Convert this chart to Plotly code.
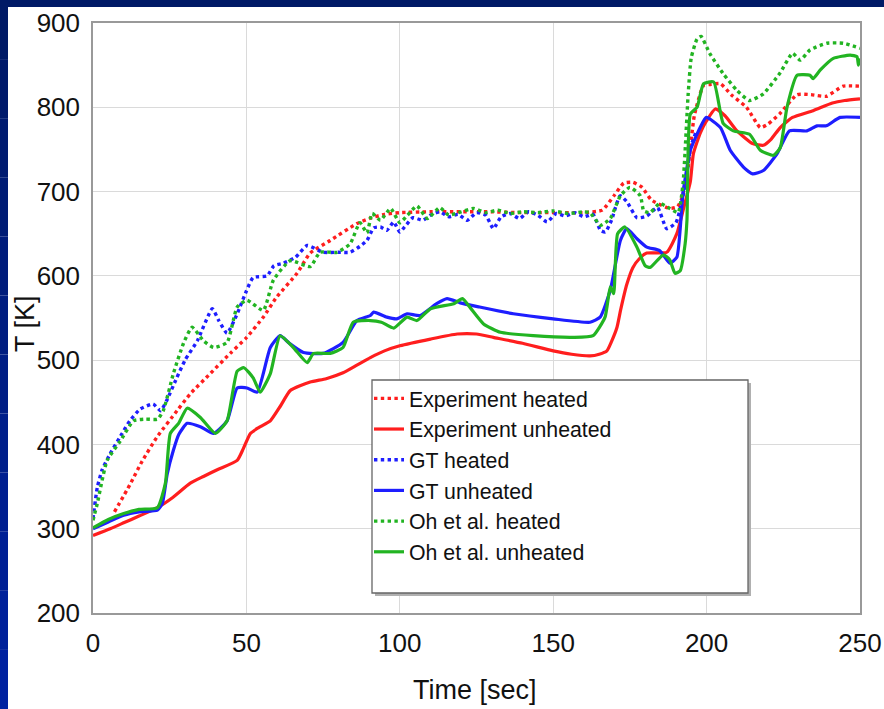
import plotly.graph_objects as go

# ---------------- data ----------------
exp_heated_t = [7, 12, 16, 20.9, 27.4, 31.7, 38.2, 44.7, 50.1, 55.5, 59.9, 66.5, 70.8, 77.3, 86, 90, 95, 100, 110, 120, 130, 140, 150, 160, 166, 170,
                173, 176, 179, 182, 188, 190.5, 192, 194, 196, 199, 201, 204.5, 208, 213, 217.5, 220, 224, 229.5, 234, 239, 244.5, 250]
exp_heated_T = [320, 352, 380, 409, 440, 460, 484, 508, 527, 551, 575, 603, 627, 642, 662, 668, 673, 675, 676, 676, 676, 675, 675, 675, 678, 696,
                710, 711, 705, 690, 680, 682, 693, 730, 790, 826, 827, 828, 815, 800, 776, 780, 793, 815, 815, 813, 825, 825]

exp_unheated_t = [0, 5.6, 10, 15, 21, 26, 31.7, 36, 40.5, 47, 49, 51.3, 54, 57.8, 61, 64.3, 70.8, 76, 81.5, 86, 90.4, 95, 100, 110, 118.7, 125,
                  130.5, 140, 150, 156, 162, 165, 167.5, 169, 170.8, 172, 174, 176, 178, 180.5, 187, 190.3, 192.5, 194.7, 195.7, 198, 200,
                  202.8, 206, 209.9, 215, 218.5, 221, 224, 228, 234.7, 241, 245, 250]
exp_unheated_T = [292, 300, 307, 315, 325, 337, 354, 362, 370, 381, 395, 413, 420, 428, 445, 464, 474, 478, 485, 494, 503, 511, 517, 525, 531, 531,
                  527, 520, 511, 507, 505, 507, 511, 522, 539, 560, 590, 610, 620, 627, 628, 650, 680, 712, 745, 770, 784,
                  798, 790, 772, 757, 755, 762, 776, 788, 796, 805, 808, 810]

gt_heated_t = [0, 1.4, 3, 5.6, 9, 12, 15.4, 19.6, 22, 24, 27.3, 30, 34, 38.9, 41, 43.7, 47, 50, 52.2, 56.7, 59, 62, 66, 69.8, 75, 80, 83.8, 87,
               89.3, 91.5, 93.7, 95.8, 98, 100, 102, 104.3, 107.5, 110, 113, 116, 119, 122, 125, 128, 130.5, 133, 136, 139, 142, 145, 148,
               151, 154, 157, 160, 163, 165.4, 167, 169, 171.8, 174, 177.3, 180.5, 184, 187, 190, 192, 193.7, 194.7, 196.5]
gt_heated_T = [312, 349, 370, 389, 410, 428, 442, 448, 440, 452, 479, 500, 523, 561, 547, 532, 555, 582, 598, 600, 612, 615, 622, 636, 628, 628, 628, 635,
               642, 657, 658, 654, 664, 652, 660, 669, 666, 672, 676, 670, 673, 666, 675, 672, 656, 670, 674, 668, 676, 672, 664,
               674, 671, 675, 670, 673, 654, 652, 666, 695, 688, 669, 671, 681, 656, 663, 689, 725, 752, 770]

gt_unheated_t = [0, 5, 10, 15, 21, 22.6, 24.2, 26.2, 28, 30.7, 35, 39.3, 43.7, 47, 50.2, 53.5, 57.8, 61, 64, 68.6, 75, 81.5, 86, 90.4, 91.5,
                 95.8, 99, 102.4, 106.6, 112, 115.4, 119.7, 126, 137, 150, 162, 165.3, 168.6, 171.9, 174, 177.3, 180.5, 184.7, 188, 190.3,
                 192.3, 194.7, 197.9, 199.9, 204.5, 207.7, 212, 215, 218.5, 223, 227, 232.7, 236, 239, 243.5, 250]
gt_unheated_T = [300, 308, 316, 320, 322, 330, 365, 393, 412, 425, 421, 413, 428, 467, 467, 462, 515, 529, 520, 509, 508, 521, 547, 553, 557,
                 551, 549, 555, 553, 567, 573, 568, 563, 555, 549, 545, 551, 583, 642, 656, 644, 634, 630, 615, 622,
                 698, 749, 776, 788, 776, 749, 729, 721, 725, 745, 772, 772, 778, 778, 788, 788]

oh_heated_t = [0, 1.4, 4.6, 8.9, 13.2, 17, 21, 22.9, 26.2, 29.5, 32.3, 36, 39.3, 43.7, 47, 50.2, 55.5, 58.8, 64.3, 70.8, 74, 79.5, 83.8, 87,
               89.3, 91, 93.7, 97, 100, 102.5, 105.6, 109, 113, 116, 120, 124, 128, 132, 136, 140, 145, 150, 155, 160, 162, 165.4, 168.6,
               171.9, 175, 178.4, 179.5, 181.6, 184.7, 188, 190.7, 192.3, 194, 195, 196.9, 198.2, 201, 205.4, 209.9, 214, 218.5, 224, 228,
               230.5, 233.7, 239.2, 244.5, 250]
oh_heated_T = [310, 330, 381, 404, 428, 430, 430, 440, 484, 520, 539, 523, 515, 521, 563, 571, 559, 595, 618, 611, 628, 628, 638, 663,
               651, 674, 666, 680, 663, 672, 683, 668, 681, 672, 676, 680, 675, 678, 674, 676, 675, 677, 674, 676, 675, 660, 668,
               695, 705, 695, 677, 675, 686, 680, 675, 709, 816, 859, 881, 884, 864, 840, 820, 808, 816, 841, 864,
               856, 868, 876, 876, 870]

oh_unheated_t = [0, 5, 10, 15, 21, 23.6, 25.2, 27.9, 30.7, 35, 39.9, 43.7, 47, 49.2, 52.2, 54.5, 57.8, 61, 65.3, 69.8, 71.9, 77.3, 81.5, 84.8,
                 90.4, 94, 98, 102.4, 105.6, 110, 117.6, 120.4, 123, 127.3, 132.8, 143.5, 156.5, 163, 166.9, 168.6, 169.7, 171, 173.4,
                 177.3, 180, 181.6, 185.9, 188, 189.7, 191.4, 193, 193.6, 194.7, 196.9, 199, 202.3, 205.4, 208.7, 214, 217.5, 221.8, 224,
                 226.2, 229.5, 233.7, 234.7, 237, 241.3, 246.8, 249, 249.5, 250]
oh_unheated_T = [301, 311, 318, 323, 325, 354, 413, 425, 443, 432, 413, 428, 487, 491, 479, 462, 484, 529, 515, 497, 508, 508, 515, 545,
                 547, 545, 538, 551, 547, 561, 567, 573, 562, 543, 533, 529, 527, 529, 551, 587, 579, 650, 658,
                 634, 612, 610, 625, 619, 603, 606, 638, 666, 792, 800, 828, 830, 781, 772, 768, 749, 743, 752,
                 800, 838, 838, 834, 844, 858, 862, 860, 850, 858]

series = [
    ("Experiment heated", exp_heated_t, exp_heated_T, "#ff1e1e", "dot"),
    ("Experiment unheated", exp_unheated_t, exp_unheated_T, "#ff1e1e", "solid"),
    ("GT heated", gt_heated_t, gt_heated_T, "#1e1eff", "dot"),
    ("GT unheated", gt_unheated_t, gt_unheated_T, "#1e1eff", "solid"),
    ("Oh et al. heated", oh_heated_t, oh_heated_T, "#22b422", "dot"),
    ("Oh et al. unheated", oh_unheated_t, oh_unheated_T, "#22b422", "solid"),
]

x_ticks = [0, 50, 100, 150, 200, 250]
y_ticks = [200, 300, 400, 500, 600, 700, 800, 900]

W, H = 884, 709
ML, MR, MT, MB = 93, 24, 23, 96
PW, PH = W - ML - MR, H - MT - MB


def px_x(p):
    return (p - ML) / PW


def px_y(p):
    return (H - MB - p) / PH


fig = go.Figure()
for name, t, T, color, dash in series:
    fig.add_trace(go.Scatter(
        x=t, y=T, name=name, mode="lines",
        line=dict(color=color, width=3.2 if dash == "solid" else 3.4, dash=dash,
                  shape="spline", smoothing=0.5),
    ))

shapes = []
# slide frame: top strip and gradient left strip
shapes.append(dict(type="rect", xref="paper", yref="paper", layer="below",
                   x0=px_x(0), x1=px_x(W), y0=px_y(7), y1=px_y(0),
                   fillcolor="#001a66", line=dict(width=0)))
n = 12
for i in range(n):
    f = i / (n - 1)
    g = int(0x1a + (0x22 - 0x1a) * f)
    b = int(0x66 + (0xa0 - 0x66) * f)
    shapes.append(dict(type="rect", xref="paper", yref="paper", layer="below",
                       x0=px_x(0), x1=px_x(8), y0=px_y(H * (i + 1) / n), y1=px_y(H * i / n),
                       fillcolor=f"rgb(0,{g},{b})", line=dict(width=0)))
# legend box (shadow + box)
shapes.append(dict(type="rect", xref="paper", yref="paper", layer="above",
                   x0=px_x(375), x1=px_x(751), y0=px_y(596), y1=px_y(383),
                   fillcolor="#b0b0b0", line=dict(width=0)))
shapes.append(dict(type="rect", xref="paper", yref="paper", layer="above",
                   x0=px_x(372), x1=px_x(748), y0=px_y(593), y1=px_y(380),
                   fillcolor="white", line=dict(color="#666666", width=1.3)))

font_family = "Arial, 'Liberation Sans', sans-serif"

annotations = [
    dict(text="T [K]", xref="paper", yref="paper", x=px_x(25), y=px_y(324),
         xanchor="center", yanchor="middle", textangle=-90, showarrow=False,
         font=dict(size=27, family=font_family, color="#111111")),
    dict(text="Time [sec]", xref="paper", yref="paper", x=px_x(475), y=px_y(690),
         xanchor="center", yanchor="middle", showarrow=False,
         font=dict(size=27, family=font_family, color="#111111")),
]

fig.update_layout(
    width=W, height=H,
    margin=dict(l=ML, r=MR, t=MT, b=MB, pad=0, autoexpand=False),
    paper_bgcolor="white", plot_bgcolor="white",
    font=dict(family=font_family, color="#111111"),
    shapes=shapes,
    annotations=annotations,
    showlegend=True,
    legend=dict(x=px_x(369), y=px_y(378), xanchor="left", yanchor="top",
                bgcolor="rgba(0,0,0,0)", borderwidth=0,
                font=dict(size=21.3, family=font_family, color="#111111"),
                tracegroupgap=0, itemwidth=30),
    xaxis=dict(range=[0, 250], tickvals=x_ticks, ticktext=[str(v) for v in x_ticks],
               showline=True, mirror=True, linecolor="#999999", linewidth=1.5,
               showgrid=True, gridcolor="#dadada", gridwidth=1, zeroline=False,
               automargin=False,
               ticks="", tickfont=dict(size=26), ticklabelstandoff=6),
    yaxis=dict(range=[200, 900], tickvals=y_ticks, ticktext=[str(v) for v in y_ticks],
               showline=True, mirror=True, linecolor="#999999", linewidth=1.5,
               showgrid=True, gridcolor="#dadada", gridwidth=1, zeroline=False,
               automargin=False,
               ticks="", tickfont=dict(size=26), ticklabelstandoff=6),
)

fig.write_html("out.html")
